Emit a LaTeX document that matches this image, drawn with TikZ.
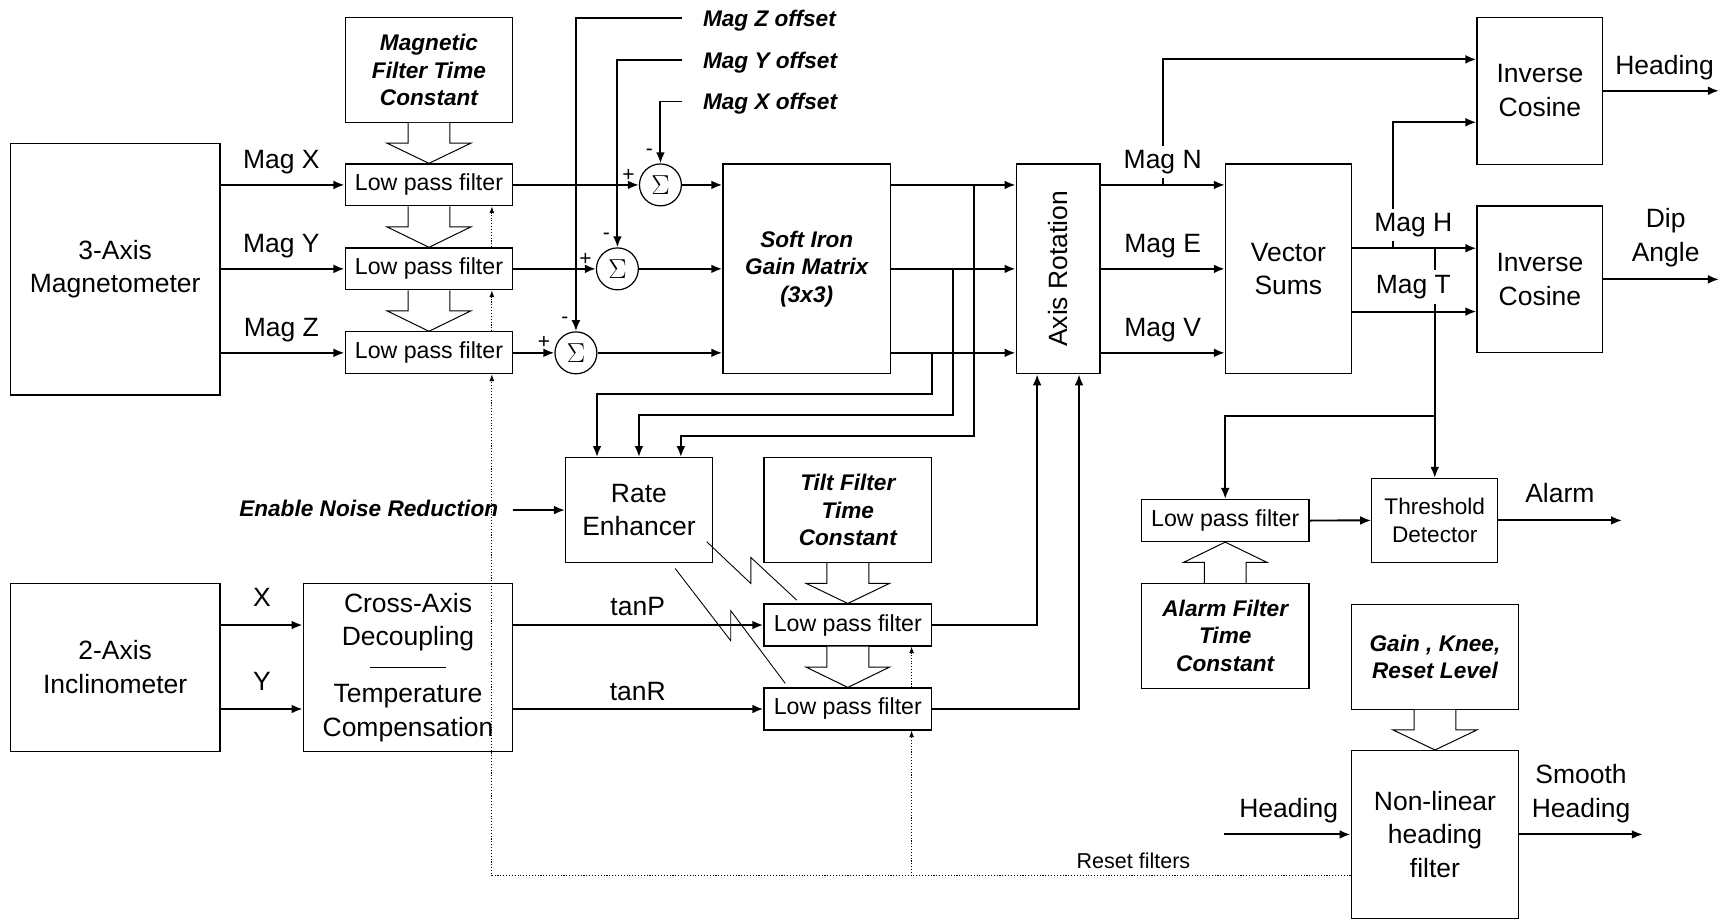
\documentclass[tikz,border=0pt]{standalone}
\usepackage{fontspec}
\usepackage{graphicx}
\setmainfont{Liberation Sans}
\usetikzlibrary{arrows.meta,calc}

\begin{document}
\begin{tikzpicture}[x=1pt,y=-1pt,
    box/.style={draw,line width=1.1pt,fill=white,inner sep=0pt,align=center,
        font=\fontsize{24}{30.5}\selectfont},
    param/.style={box,font=\fontsize{20.5}{25}\selectfont\bfseries\itshape},
    lpf/.style={box,minimum width=152pt,minimum height=38pt,
        font=\fontsize{21}{25}\selectfont},
    sum/.style={circle,draw,line width=1.1pt,fill=white,minimum size=38pt,
        inner sep=0pt,font=\fontsize{27}{30}\selectfont},
    lbl/.style={inner sep=0pt,align=center,font=\fontsize{24}{30.5}\selectfont},
    cmd/.style={inner sep=0pt,font=\fontsize{20.5}{25}\selectfont\bfseries\itshape},
    sgn/.style={inner sep=0pt,font=\fontsize{19}{22}\selectfont},
    arr/.style={line width=1.8pt,-{Latex[length=10pt,width=8pt]}},
    dots/.style={line width=0.8pt,dash pattern=on 1pt off 1.6pt,
        -{Latex[length=6pt,width=4.5pt]}},
    bolt/.style={line width=0.8pt},
    fat/.style={draw,line width=0.9pt,fill=white,
        to path={let \p1=(\tikztostart), \p2=(\tikztotarget) in
            (\x1-19pt,\y1) -- (\x1-19pt,{(\y1+\y2)/2}) -- (\x1-38pt,{(\y1+\y2)/2})
            -- (\x1,\y2) -- (\x1+38pt,{(\y1+\y2)/2}) -- (\x1+19pt,{(\y1+\y2)/2})
            -- (\x1+19pt,\y1)}}
]
\useasboundingbox (0,0) rectangle (1568,835);

% magnetometer chain
\node[box,minimum width=190pt,minimum height=228pt] (mag) at (104.4,244) {3-Axis\\Magnetometer};
\node[param,minimum width=152pt,minimum height=95pt] (mft) at (388.8,63.4) {Magnetic\\Filter Time\\Constant};
\node[lpf] (lpx) at (388.8,167.6) {Low pass filter};
\node[lpf] (lpy) at (388.8,243.7) {Low pass filter};
\node[lpf] (lpz) at (388.8,319.8) {Low pass filter};
\node[sum] (sx) at (598.6,167.6) {$\Sigma$};
\node[sum] (sy) at (559.6,243.7) {$\Sigma$};
\node[sum] (sz) at (522,319.8) {$\Sigma$};
\node[param,minimum width=152pt,minimum height=190pt] (soft) at (731.2,243.7) {Soft Iron\\Gain Matrix\\(3x3)};
\node[box,minimum width=76pt,minimum height=190pt] (axr) at (959,243.7) {\rotatebox{90}{Axis Rotation}};
\node[box,minimum width=114pt,minimum height=190pt] (vsum) at (1167.7,243.7) {Vector\\Sums};
\node[box,minimum width=114pt,minimum height=133pt] (ic1) at (1395.7,82.3) {Inverse\\Cosine};
\node[box,minimum width=114pt,minimum height=133pt] (ic2) at (1395.7,253.2) {Inverse\\Cosine};

% tilt chain
\node[box,minimum width=133pt,minimum height=95pt] (rate) at (579.1,462.3) {Rate\\Enhancer};
\node[param,minimum width=152pt,minimum height=95pt] (tilt) at (768.4,462.3) {Tilt Filter\\Time\\Constant};
\node[lpf] (lpp) at (768.4,566.5) {Low pass filter};
\node[lpf] (lpr) at (768.4,642.6) {Low pass filter};
\node[box,minimum width=190pt,minimum height=152pt] (inc) at (104.4,604.8) {2-Axis\\Inclinometer};
\node[box,minimum width=190pt,minimum height=152pt] (cad) at (369.8,604.8) {Cross-Axis\\Decoupling\\[21pt]Temperature\\Compensation};

% alarm and heading filter
\node[lpf] (lpa) at (1110.5,471.8) {Low pass filter};
\node[box,minimum width=114pt,minimum height=76pt,font=\fontsize{20.5}{25.5}\selectfont] (thr) at (1300.4,471.7) {Threshold\\Detector};
\node[param,minimum width=152pt,minimum height=95pt] (atc) at (1110.5,576.3) {Alarm Filter\\Time\\Constant};
\node[param,minimum width=152pt,minimum height=95pt] (gkr) at (1300.6,595.4) {Gain , Knee,\\Reset Level};
\node[box,minimum width=152pt,minimum height=152pt] (nlh) at (1300.6,756.3) {Non-linear\\heading\\filter};

\draw[line width=1.1pt] ([xshift=-34pt]cad.center) -- ([xshift=34pt]cad.center);

% free ends and junctions
\coordinate (ox) at (617.8,92);
\coordinate (oy) at (617.8,54.4);
\coordinate (oz) at (617.8,16);
\coordinate (j1) at (883,167.6);
\coordinate (j2) at (864,243.7);
\coordinate (j3) at (845,319.8);
\coordinate (jn) at (1053.8,167.6);
\coordinate (jh) at (1262.9,225);
\coordinate (mt) at (1300.5,282.4);
\coordinate (ja) at (1300.5,376.9);
\coordinate (hout) at (1558,82.3);
\coordinate (dout) at (1558,253.2);
\coordinate (aout) at (1470.2,471.7);
\coordinate (en) at (464.7,462.3);
\coordinate (hin) at (1109.8,756.3);
\coordinate (sout) at (1489,756.3);
\coordinate (r2) at (826.2,793.9);

% hollow arrows
\draw[fat] (mft.south) to (lpx.north);
\draw[fat] (lpx.south) to (lpy.north);
\draw[fat] (lpy.south) to (lpz.north);
\draw[fat] (tilt.south) to (lpp.north);
\draw[fat] (lpp.south) to (lpr.north);
\draw[fat] (atc.north) to (lpa.south);
\draw[fat] (gkr.south) to (nlh.north);

% magnetometer signals
\draw[arr] (mag.east |- lpx) -- (lpx);
\draw[arr] (mag.east |- lpy) -- (lpy);
\draw[arr] (mag.east |- lpz) -- (lpz);
\draw[arr] (lpx) -- (sx);
\draw[arr] (lpy) -- (sy);
\draw[arr] (lpz) -- (sz);
\draw[arr] (ox) -| (sx.north);
\draw[arr] (oy) -| (sy.north);
\draw[arr] (oz) -| (sz.north);
\draw[arr] (sx) -- (soft.west |- sx);
\draw[arr] (sy) -- (soft.west |- sy);
\draw[arr] (sz) -- (soft.west |- sz);
\draw[arr] (soft.east |- sx) -- (axr.west |- sx);
\draw[arr] (soft.east |- sy) -- (axr.west |- sy);
\draw[arr] (soft.east |- sz) -- (axr.west |- sz);
\draw[arr] (j1) |- ([xshift=38pt,yshift=19.3pt]rate.north) -- ([xshift=38pt]rate.north);
\draw[arr] (j2) |- ([yshift=38pt]rate.north) -- (rate.north);
\draw[arr] (j3) |- ([xshift=-38pt,yshift=56.9pt]rate.north) -- ([xshift=-38pt]rate.north);
\draw[arr] (axr.east |- sx) -- (vsum.west |- sx);
\draw[arr] (axr.east |- sy) -- (vsum.west |- sy);
\draw[arr] (axr.east |- sz) -- (vsum.west |- sz);
\draw[arr] (jn) |- ([yshift=28.5pt]ic1.west);
\draw[arr] (vsum.east |- jh) -- (ic2.west |- jh);
\draw[arr] (vsum.east |- mt) -- (ic2.west |- mt);
\draw[arr] (jh) |- ([yshift=-28.5pt]ic1.west);
\draw[arr] (ic1) -- (hout);
\draw[arr] (ic2) -- (dout);
\draw[arr] (thr.north |- jh) -- (thr.north);
\draw[arr] (ja) -| (lpa.north);
\draw[arr] (lpa) -- (thr);
\draw[arr] (thr) -- (aout);

% tilt signals
\draw[arr] (en) -- (rate);
\draw[arr] (inc.east |- lpp) -- (cad.west |- lpp);
\draw[arr] (inc.east |- lpr) -- (cad.west |- lpr);
\draw[arr] (cad.east |- lpp) -- (lpp);
\draw[arr] (cad.east |- lpr) -- (lpr);
\draw[arr] (lpp.east) -| ([xshift=-19pt]axr.south);
\draw[arr] (lpr.east) -| ([xshift=19pt]axr.south);
\draw[bolt] (640.5,491) -- (680.5,528.8) -- (680.5,505.2) -- (722.1,543.9);
\draw[bolt] (611.9,515.2) -- (662.3,580.7) -- (662.3,553.5) -- (711.7,619.4);

% heading filter and resets
\draw[arr] (hin) -- (nlh);
\draw[arr] (nlh) -- (sout);
\draw[dots] ([yshift=-37.6pt]nlh.west) -| ([xshift=57pt]lpz.south);
\draw[dots] (r2) -- ([xshift=57.8pt]lpr.south);
\draw[dots] ([xshift=57pt]lpz.north) -- ([xshift=57pt]lpy.south);
\draw[dots] ([xshift=57pt]lpy.north) -- ([xshift=57pt]lpx.south);
\draw[dots] ([xshift=57.8pt]lpr.north) -- ([xshift=57.8pt]lpp.south);

% labels
\node[lbl,anchor=base] (lmx) at (255,152.5) {Mag X};
\node[lbl,anchor=base] (lmy) at (255,228.7) {Mag Y};
\node[lbl,anchor=base] (lmz) at (255,304.8) {Mag Z};
\node[cmd,anchor=base west] (tox) at (637,99.5) {Mag X offset};
\node[cmd,anchor=base west] (toy) at (637,62) {Mag Y offset};
\node[cmd,anchor=base west] (toz) at (637,24) {Mag Z offset};
\node[sgn] (px) at (569.6,158.6) {+};
\node[sgn] (mx) at (588.6,138) {-};
\node[sgn] (py) at (530.6,234.7) {+};
\node[sgn] (my) at (549.6,214.1) {-};
\node[sgn] (pz) at (493,310.8) {+};
\node[sgn] (mz) at (512,290.2) {-};
\node[lbl,anchor=base,fill=white,inner ysep=4pt] (lmn) at (1053.8,152.5) {Mag N};
\node[lbl,anchor=base] (lme) at (1053.8,228.7) {Mag E};
\node[lbl,anchor=base] (lmv) at (1053.8,304.8) {Mag V};
\node[lbl,anchor=base,fill=white,inner ysep=4pt] (lmh) at (1281,209.9) {Mag H};
\node[lbl,anchor=base,fill=white,inner ysep=5pt] (lmt) at (1281,265.8) {Mag T};
\node[lbl,anchor=base] (lhd) at (1508.7,67.3) {Heading};
\node[lbl] (ldip) at (1509.7,215.6) {Dip\\Angle};
\node[lbl,anchor=base] (lal) at (1413.8,455.4) {Alarm};
\node[cmd,anchor=base east] (enr) at (451.7,468.4) {Enable Noise Reduction};
\node[lbl,anchor=base] (lx) at (237.5,549.9) {X};
\node[lbl,anchor=base] (ly) at (237.5,625.4) {Y};
\node[lbl,anchor=base] (ltp) at (578,558.2) {tanP};
\node[lbl,anchor=base] (ltr) at (578,634.6) {tanR};
\node[lbl,anchor=base] (lhi) at (1168,741) {Heading};
\node[lbl] (lsh) at (1433,719.3) {Smooth\\Heading};
\node[lbl,anchor=base east,font=\fontsize{19.5}{23}\selectfont] (lrs) at (1079,787.5) {Reset filters};
\end{tikzpicture}
\end{document}
